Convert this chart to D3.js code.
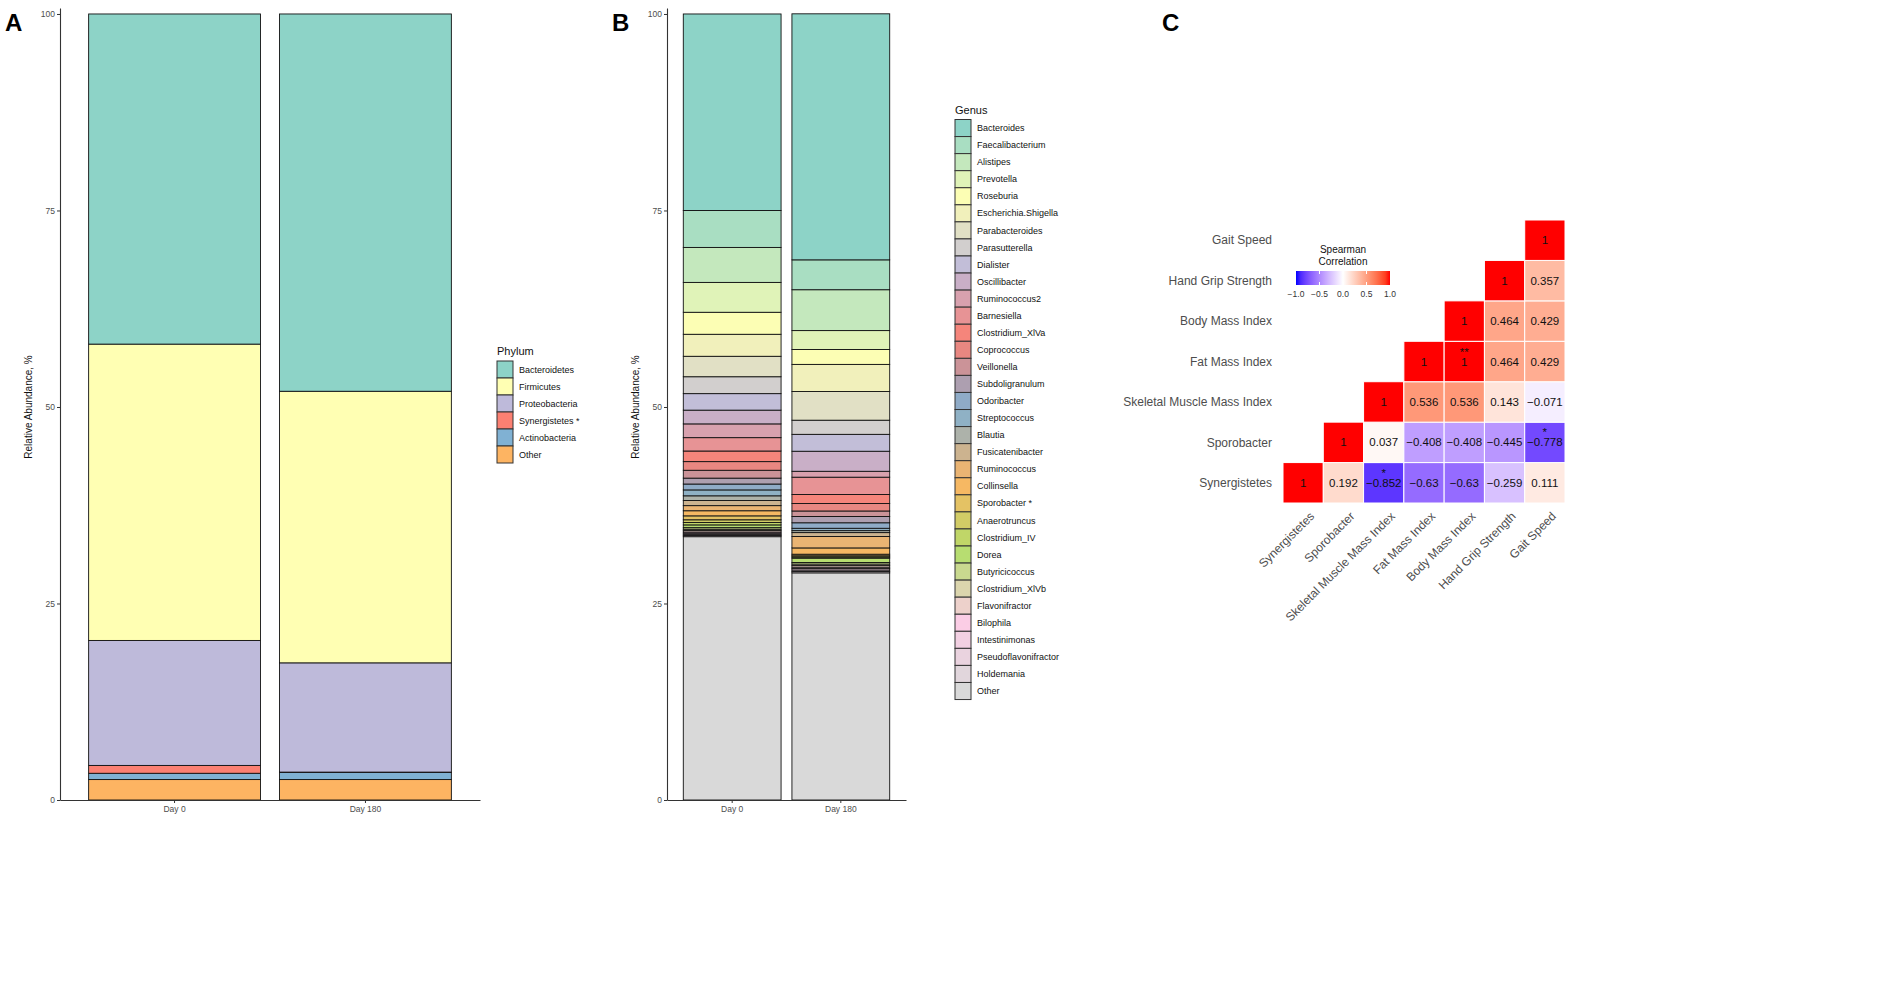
<!DOCTYPE html>
<html>
<head>
<meta charset="utf-8">
<script src="https://cdn.jsdelivr.net/npm/d3@7"></script>
<style>
  body { margin: 0; background: #fff; }
  svg { font-family: "Liberation Sans", Arial, Helvetica, sans-serif; }
</style>
</head>
<body>
<div id="chart"></div>
<script>
// ---- data ----
var days = ["Day 0", "Day 180"];
var yTicks = [0, 25, 50, 75, 100];

var phyla = ["Bacteroidetes", "Firmicutes", "Proteobacteria", "Synergistetes", "Actinobacteria", "Other"];
var phylumLabels = ["Bacteroidetes", "Firmicutes", "Proteobacteria", "Synergistetes *", "Actinobacteria", "Other"];
var phylumDay0 = [42.0, 37.7, 15.9, 1.0, 0.8, 2.6];
var phylumDay180 = [48.0, 34.55, 13.9, 0.05, 0.9, 2.6];

var genera = ["Bacteroides", "Faecalibacterium", "Alistipes", "Prevotella", "Roseburia", "Escherichia.Shigella",
  "Parabacteroides", "Parasutterella", "Dialister", "Oscillibacter", "Ruminococcus2", "Barnesiella",
  "Clostridium_XlVa", "Coprococcus", "Veillonella", "Subdoligranulum", "Odoribacter", "Streptococcus",
  "Blautia", "Fusicatenibacter", "Ruminococcus", "Collinsella", "Sporobacter", "Anaerotruncus",
  "Clostridium_IV", "Dorea", "Butyricicoccus", "Clostridium_XlVb", "Flavonifractor", "Bilophila",
  "Intestinimonas", "Pseudoflavonifractor", "Holdemania", "Other"];
var genusLabels = genera.map(function(g){ return g === "Sporobacter" ? "Sporobacter *" : g; });
var genusDay0 = [25.0, 4.7, 4.45, 3.8, 2.8, 2.8, 2.6, 2.15, 2.1, 1.75, 1.75, 1.7,
  1.35, 1.1, 1.0, 0.75, 0.75, 0.75, 0.6, 0.65, 0.65, 0.65, 0.5, 0.35,
  0.3, 0.35, 0.2, 0.15, 0.2, 0.15, 0.15, 0.15, 0.15, 33.5];
var genusDay180 = [31.3, 3.8, 5.2, 2.4, 1.9, 3.45, 3.65, 1.8, 2.15, 2.55, 0.75, 2.2,
  1.15, 0.95, 0.7, 0.8, 0.7, 0.3, 0.25, 0.5, 1.45, 0.8, 0.2, 0.15,
  0.15, 0.55, 0.2, 0.2, 0.2, 0.18, 0.18, 0.18, 0.18, 28.9];

var corrVars = ["Synergistetes", "Sporobacter", "Skeletal Muscle Mass Index", "Fat Mass Index",
  "Body Mass Index", "Hand Grip Strength", "Gait Speed"];
var rSynergistetes = [1, 0.192, -0.852, -0.63, -0.63, -0.259, 0.111];
var rSporobacter   = [0.192, 1, 0.037, -0.408, -0.408, -0.445, -0.778];
var rSkeletal      = [-0.852, 0.037, 1, 0.536, 0.536, 0.143, -0.071];
var rFatMass       = [-0.63, -0.408, 0.536, 1, 1, 0.464, 0.429];
var rBodyMass      = [-0.63, -0.408, 0.536, 1, 1, 0.464, 0.429];
var rHandGrip      = [-0.259, -0.445, 0.143, 0.464, 0.464, 1, 0.357];
var rGait          = [0.111, -0.778, -0.071, 0.429, 0.429, 0.357, 1];
var corrStars = [
  {row: "Synergistetes", col: "Skeletal Muscle Mass Index", mark: "*"},
  {row: "Sporobacter", col: "Gait Speed", mark: "*"},
  {row: "Fat Mass Index", col: "Body Mass Index", mark: "**"}
];
var legendTicks = [-1, -0.5, 0, 0.5, 1];

// ---- colours ----
var set3 = ["#8DD3C7", "#FFFFB3", "#BEBADA", "#FB8072", "#80B1D3", "#FDB462", "#B3DE69", "#FCCDE5", "#D9D9D9"];
var phylumColor = d3.scaleOrdinal().domain(phyla).range(set3.slice(0, 6));
var ramp = d3.piecewise(d3.interpolateRgb, set3);
var genusColor = d3.scaleOrdinal().domain(genera)
  .range(genera.map(function(d, i){ return ramp(i / (genera.length - 1)); }));
var corrColor = function(v){
  return v >= 0 ? d3.interpolateLab("#ffffff", "#ff0000")(v) : d3.interpolateLab("#ffffff", "#0000ff")(-v);
};

var svg = d3.select("#chart").append("svg")
  .attr("width", 1902).attr("height", 993);

function fmt(v){ return String(v).replace("-", "\u2212"); }

function stackPanel(opts){
  var g = svg.append("g");
  var y = d3.scaleLinear().domain([0, 100.76]).range([800, 8]);
  var x = d3.scaleBand().domain(days).range([opts.x0, opts.x1]).paddingInner(0.1).paddingOuter(0.15);

  var rows = days.map(function(d, i){
    var o = {day: d};
    opts.keys.forEach(function(k, j){ o[k] = (i ? opts.v180 : opts.v0)[j]; });
    return o;
  });
  var series = d3.stack().keys(opts.keys.slice().reverse())(rows);

  g.selectAll("g.layer").data(series).enter().append("g")
    .attr("class", "layer")
    .attr("fill", function(d){ return opts.color(d.key); })
    .selectAll("rect").data(function(d){ return d; }).enter().append("rect")
      .attr("x", function(d){ return x(d.data.day); })
      .attr("y", function(d){ return y(d[1]); })
      .attr("width", x.bandwidth())
      .attr("height", function(d){ return y(d[0]) - y(d[1]); })
      .attr("stroke", "#111").attr("stroke-width", 0.9);

  var ya = g.append("g").attr("transform", "translate(" + opts.x0 + ",0)")
    .call(d3.axisLeft(y).tickValues(yTicks).tickSize(3).tickSizeOuter(0).tickPadding(2));
  var xa = g.append("g").attr("transform", "translate(0,800)")
    .call(d3.axisBottom(x).tickSize(3).tickSizeOuter(0).tickPadding(3));
  [ya, xa].forEach(function(a){
    a.select(".domain").attr("stroke", "#333").attr("stroke-width", 1.1);
    a.selectAll(".tick line").attr("stroke", "#333");
    a.selectAll("text").attr("fill", "#4d4d4d").style("font-size", "8.5px");
  });

  g.append("text")
    .attr("transform", "translate(" + (opts.x0 - 28) + "," + y(50) + ") rotate(-90)")
    .attr("text-anchor", "middle")
    .style("font-size", "10px").attr("fill", "#111")
    .text("Relative Abundance, %");

  // legend
  var lg = g.append("g").attr("transform", "translate(" + opts.lx + "," + opts.ly + ")");
  lg.append("text").attr("x", 0).attr("y", -6).style("font-size", "11px").attr("fill", "#111").text(opts.title);
  var item = lg.selectAll("g.item").data(opts.keys).enter().append("g")
    .attr("transform", function(d, i){ return "translate(0," + (i * opts.step) + ")"; });
  item.append("rect").attr("width", 16).attr("height", opts.step)
    .attr("fill", function(d){ return opts.color(d); })
    .attr("stroke", "#333").attr("stroke-width", 1);
  item.append("text").attr("x", 22).attr("y", opts.step / 2).attr("dy", "0.35em")
    .style("font-size", "9px").attr("fill", "#111")
    .text(function(d, i){ return opts.labels[i]; });
}

stackPanel({x0: 60, x1: 480, keys: phyla, labels: phylumLabels, v0: phylumDay0, v180: phylumDay180,
  color: phylumColor, title: "Phylum", lx: 497, ly: 361, step: 17});
stackPanel({x0: 667, x1: 906, keys: genera, labels: genusLabels, v0: genusDay0, v180: genusDay180,
  color: genusColor, title: "Genus", lx: 955, ly: 119.5, step: 17.06});

// ---- panel C: correlation heatmap ----
var corrRows = [rSynergistetes, rSporobacter, rSkeletal, rFatMass, rBodyMass, rHandGrip, rGait];
var cells = [];
corrVars.forEach(function(rv, i){
  corrVars.forEach(function(cv, j){
    if (j >= i) cells.push({row: rv, col: cv, value: corrRows[i][j]});
  });
});
var hx = d3.scaleBand().domain(corrVars).range([1283, 1565]);
var hy = d3.scaleBand().domain(corrVars).range([503, 220]);
var hc = svg.append("g");

hc.selectAll("rect.cell").data(cells).enter().append("rect")
  .attr("class", "cell")
  .attr("x", function(d){ return hx(d.col); })
  .attr("y", function(d){ return hy(d.row); })
  .attr("width", hx.bandwidth()).attr("height", hy.bandwidth())
  .attr("fill", function(d){ return corrColor(d.value); })
  .attr("stroke", "#fff").attr("stroke-width", 1);

hc.selectAll("text.val").data(cells).enter().append("text")
  .attr("x", function(d){ return hx(d.col) + hx.bandwidth() / 2; })
  .attr("y", function(d){ return hy(d.row) + hy.bandwidth() / 2; })
  .attr("dy", "0.35em").attr("text-anchor", "middle")
  .style("font-size", "11.5px").attr("fill", "#111")
  .text(function(d){ return fmt(d.value); });

hc.selectAll("text.star").data(corrStars).enter().append("text")
  .attr("x", function(d){ return hx(d.col) + hx.bandwidth() / 2; })
  .attr("y", function(d){ return hy(d.row) + hy.bandwidth() / 2 - 6; })
  .attr("text-anchor", "middle")
  .style("font-size", "11.5px").attr("fill", "#111")
  .text(function(d){ return d.mark; });

hc.selectAll("text.rowlab").data(corrVars).enter().append("text")
  .attr("x", 1272)
  .attr("y", function(d){ return hy(d) + hy.bandwidth() / 2; })
  .attr("dy", "0.35em").attr("text-anchor", "end")
  .style("font-size", "12px").attr("fill", "#4d4d4d")
  .text(function(d){ return d; });

hc.selectAll("text.collab").data(corrVars).enter().append("text")
  .attr("transform", function(d){
    return "translate(" + (hx(d) + hx.bandwidth() / 2 + 6) + ",511) rotate(-45)";
  })
  .attr("text-anchor", "end").attr("dy", "0.7em")
  .style("font-size", "12px").attr("fill", "#4d4d4d")
  .text(function(d){ return d; });

// colour bar
var lx = d3.scaleLinear().domain([-1, 1]).range([1296, 1390]);
var grad = svg.append("defs").append("linearGradient").attr("id", "corrgrad");
d3.range(0, 1.0001, 0.05).forEach(function(t){
  grad.append("stop").attr("offset", t).attr("stop-color", corrColor(t * 2 - 1));
});
hc.append("rect").attr("x", lx(-1)).attr("y", 271).attr("width", lx(1) - lx(-1)).attr("height", 14)
  .attr("fill", "url(#corrgrad)");
legendTicks.forEach(function(t){
  if (t > -1 && t < 1) {
    hc.append("line").attr("x1", lx(t)).attr("x2", lx(t)).attr("y1", 271).attr("y2", 274)
      .attr("stroke", "#fff").attr("stroke-width", 1);
    hc.append("line").attr("x1", lx(t)).attr("x2", lx(t)).attr("y1", 282).attr("y2", 285)
      .attr("stroke", "#fff").attr("stroke-width", 1);
  }
});
hc.selectAll("text.ltick").data(legendTicks).enter().append("text")
  .attr("x", function(d){ return lx(d); }).attr("y", 297)
  .attr("text-anchor", "middle").style("font-size", "8.5px").attr("fill", "#333")
  .text(function(d){ return fmt(d.toFixed(1)); });
hc.append("text").attr("x", 1343).attr("y", 253).attr("text-anchor", "middle")
  .style("font-size", "10px").attr("fill", "#111").text("Spearman");
hc.append("text").attr("x", 1343).attr("y", 265).attr("text-anchor", "middle")
  .style("font-size", "10px").attr("fill", "#111").text("Correlation");

// panel letters
[["A", 5], ["B", 612], ["C", 1162]].forEach(function(p){
  svg.append("text").attr("x", p[1]).attr("y", 31)
    .style("font-size", "24px").style("font-weight", "bold").attr("fill", "#000")
    .text(p[0]);
});
</script>
</body>
</html>
